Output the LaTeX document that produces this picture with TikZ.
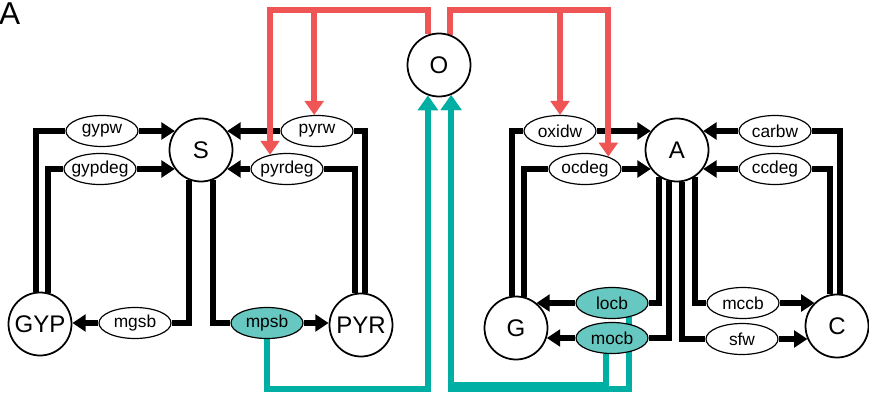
\documentclass[tikz,border=0pt]{standalone}
\usepackage{fontspec}
\setmainfont{Liberation Sans}
\usepackage{xcolor}
\usepackage{tikz}
\usetikzlibrary{positioning, arrows.meta, shapes.geometric, backgrounds}
\definecolor{oxRed}{HTML}{F05555}
\definecolor{bioTeal}{HTML}{00AFA3}
\definecolor{bioFill}{HTML}{66C8C1}

\tikzset{
  pool/.style={circle, draw, line width=1.5pt, fill=white, minimum size=1.89cm,
    inner sep=0pt, font=\fontsize{20.5}{24}\selectfont},
  rate/.style={ellipse, draw, line width=1pt, fill=white, minimum width=2.16cm,
    minimum height=0.93cm, inner sep=0pt, font=\fontsize{14.8}{17}\selectfont},
  flow/.style={line width=0.18cm, -{Triangle[length=0.4cm, width=0.5cm]}},
  oxflow/.style={oxRed, line width=0.18cm, -{Triangle[length=0.42cm, width=0.56cm]}},
  bioflow/.style={bioTeal, line width=0.18cm, -{Triangle[length=0.45cm, width=0.6cm]}}
}

\begin{document}
\begin{tikzpicture}[x=0.03cm, y=-0.03cm]
        \useasboundingbox (0,0) rectangle (869,393);
        % ── panel letter
        \node[anchor=base west, inner sep=0pt, font=\fontsize{27}{30}\selectfont] (panel) at (-1,24) {A};
        % ── pools
        \foreach \nm/\x/\y in {O/439/65, S/201/150, A/677/150, GYP/40/324, PYR/361/325, G/516/328, C/837/326}
          \node[pool] (\nm) at (\x,\y) {\nm};
        % ── rates: white = physical, teal = biological
        \foreach \nm/\x/\y/\fc in {gypw/102/131/white, gypdeg/100/169/white, pyrw/317/131/white,
            pyrdeg/287/169/white, mgsb/135/323/white, mpsb/267/323/bioFill,
            oxidw/560/131/white, ocdeg/585/169/white, carbw/775/131/white, ccdeg/775/169/white,
            locb/612/303/bioFill, mocb/612/338/bioFill, mccb/743/303/white, sfw/742/339/white}
          \node[rate, fill=\fc] (\nm) at (\x,\y) {\makebox[0pt]{\nm}};
        \coordinate (redtop) at (439,10);
        \coordinate (tealbot) at (439,388.5);
        \begin{scope}[on background layer]
          % ── S cycle
          \draw[flow] (GYP.97) |- (gypw) -- (gypw -| S.144);
          \draw[flow] (GYP.76) |- (gypdeg) -- (gypdeg -| S.216);
          \draw[flow] (PYR.83) |- (pyrw) -- (pyrw -| S.36);
          \draw[flow] (PYR.101) |- (pyrdeg) -- (pyrdeg -| S.324);
          \draw[flow] (S.248) |- (mgsb) -- (mgsb -| GYP.east);
          \draw[flow] (S.292) |- (mpsb) -- (mpsb -| PYR.west);
          % ── A cycle
          \draw[flow] (G.98) |- (oxidw) -- (oxidw -| A.144);
          \draw[flow] (G.76) |- (ocdeg) -- (ocdeg -| A.216);
          \draw[flow] (C.85) |- (carbw) -- (carbw -| A.36);
          \draw[flow] (C.102) |- (ccdeg) -- (ccdeg -| A.324);
          \draw[flow] (A.236) |- (locb) -- (locb -| G.51);
          \draw[flow] (A.256) |- (mocb) -- (mocb -| G.342);
          \draw[flow] (A.303) |- (mccb) -- (mccb -| C.134);
          \draw[flow] (A.278) |- (sfw) -- (sfw -| C.204);
          % ── O feeds the oxidative rates
          \draw[oxflow] (O.109) -- (O.109 |- redtop) -| (pyrdeg.140);
          \draw[oxflow] (pyrw.100 |- redtop) -- (pyrw.100);
          \draw[oxflow] (O.70) -- (O.70 |- redtop) -| (ocdeg.28);
          \draw[oxflow] (oxidw.north |- redtop) -- (oxidw.north);
          % ── biological rates feed back to O
          \draw[bioflow] (mpsb) -- (mpsb |- tealbot) -| (O.250);
          \draw[bioflow] (locb.320) -- (locb.320 |- tealbot) -| (O.292);
          \draw[bioflow] (mocb.250) -- ([yshift=0.1cm]mocb.250 |- tealbot) -| (O.292);
        \end{scope}
      \end{tikzpicture}
\end{document}
